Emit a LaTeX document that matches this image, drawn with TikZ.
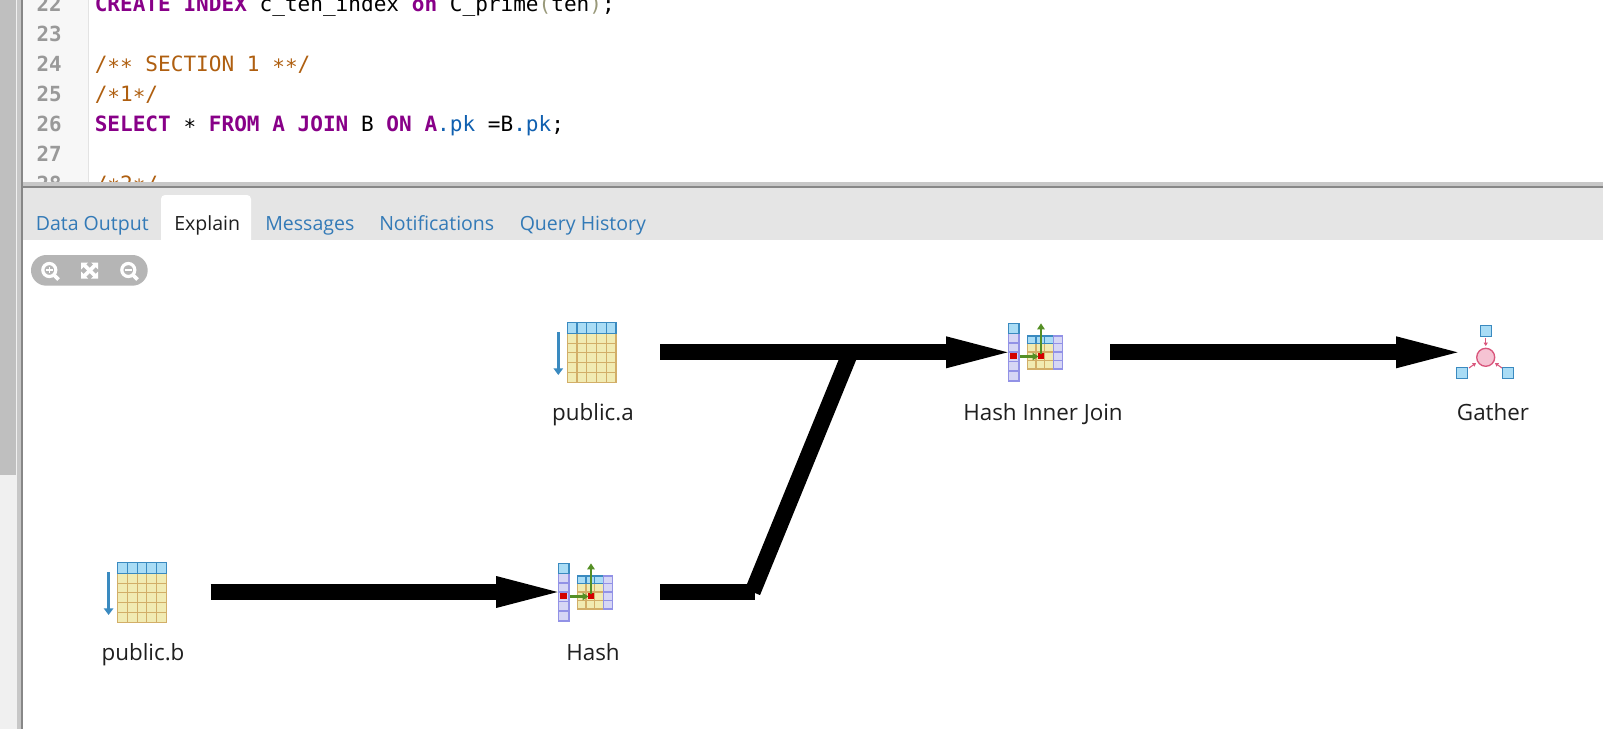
\documentclass[tikz,border=0pt]{standalone}
\usepackage{fontspec}
\setmainfont{Open Sans}
\newfontfamily\codefont{DejaVu Sans Mono}
\usetikzlibrary{arrows.meta}
\definecolor{kw}{HTML}{880088}
\definecolor{cm}{HTML}{AF5F10}
\definecolor{prop}{HTML}{1060B0}
\definecolor{par}{HTML}{99997A}
\definecolor{tabblue}{HTML}{337AB7}
\definecolor{hdrfill}{HTML}{A9DCF5}
\definecolor{hdrline}{HTML}{3A8AC0}
\definecolor{yelfill}{HTML}{F1EBB2}
\definecolor{yelline}{HTML}{D2AE68}
\definecolor{lavfill}{HTML}{D6D6F5}
\definecolor{lavline}{HTML}{9292E6}
\definecolor{grn}{HTML}{558F25}
\definecolor{redsq}{HTML}{D40000}
\definecolor{pnkfill}{HTML}{F5C3D3}
\definecolor{pnkline}{HTML}{D9567C}
\newcommand{\kwd}[1]{\textcolor{kw}{\bfseries #1}}
\newcommand{\stc}{\raisebox{-0.14em}{*}}
\tikzset{
  x=0.75pt,y=-0.75pt,
  codeline/.style={anchor=base west,inner sep=0pt,font=\codefont\fontsize{15.8}{18}\selectfont},
  lineno/.style={anchor=base east,inner sep=0pt,text=black!40,font=\codefont\bfseries\fontsize{15.6}{18}\selectfont},
  tabtext/.style={anchor=base west,inner sep=0pt,text=tabblue,font=\fontsize{14.65}{18}\selectfont},
  nodelabel/.style={anchor=base,inner sep=0pt,text=black!88,font=\fontsize{16.8}{20}\selectfont},
  conn/.style={line width=12.2pt,black,-{Triangle[length=46pt,width=24pt,line width=0pt]}},
  connplain/.style={line width=12.2pt,black},
  hdrcell/.style={fill=hdrfill,draw=hdrline,line width=1pt},
  yelcell/.style={fill=yelfill,draw=yelline,line width=0.8pt},
  lavcell/.style={fill=lavfill,draw=lavline,line width=0.8pt},
  redcell/.style={fill=redsq,draw=none},
  grnarrow/.style={draw=grn,line width=2pt,-{Triangle[length=4.5pt,width=5.5pt]}},
  tinyarrow/.style={draw=pnkline,line width=0.8pt,-{Triangle[length=2.5pt,width=3pt]}},
  zoomicon/.style={draw=white,line width=2.4pt},
}
\newcommand{\scanicon}[2]{%
  \begin{scope}[shift={(#1,#2)}]
    \draw[hdrline,line width=2pt,-{Triangle[length=5pt,width=7pt]}] (558.3,332) -- (558.3,375);
    \fill[yelfill] (567.3,333.3) rectangle (616,382.3);
    \fill[hdrfill] (567.3,322.7) rectangle (616,333.3);
    \foreach \yy in {343.1,352.9,362.7,372.5}
      \draw[yelline,line width=0.8pt] (567.3,\yy) -- (616,\yy);
    \foreach \xx in {577,586.8,596.5,606.3}{
      \draw[yelline,line width=0.8pt] (\xx,333.3) -- (\xx,382.3);
      \draw[hdrline,line width=0.8pt] (\xx,322.7) -- (\xx,333.3);}
    \draw[yelline,line width=1pt] (567.3,333.3) rectangle (616,382.3);
    \draw[hdrline,line width=1pt] (567.3,322.7) rectangle (616,333.3);
  \end{scope}}
\newcommand{\hashicon}[2]{%
  \begin{scope}[shift={(#1,#2)}]
    \foreach \ya/\yb in {333.3/343,343/352,352/361.5,361.5/371,371/381}
      \draw[lavcell] (1008.5,\ya) rectangle (1019,\yb);
    \draw[hdrcell] (1008.5,323.3) rectangle (1019,333.3);
    \fill[redcell] (1010,353.3) rectangle (1017.3,359.3);
    \foreach \ya/\yb in {343.3/352,352/360.5,360.5/369}{
      \draw[yelcell] (1027.3,\ya) rectangle (1036,\yb);
      \draw[yelcell] (1036,\ya) rectangle (1044.7,\yb);
      \draw[yelcell] (1044.7,\ya) rectangle (1053.3,\yb);
      \draw[lavcell] (1053.3,\ya) rectangle (1062.3,\yb);}
    \draw[hdrcell] (1027.3,336) rectangle (1036,343.3);
    \draw[hdrcell] (1036,336) rectangle (1044.7,343.3);
    \draw[hdrcell] (1044.7,336) rectangle (1053.3,343.3);
    \draw[lavcell] (1053.3,336) rectangle (1062.3,343.3);
    \fill[redcell] (1038.3,353.3) rectangle (1044.3,359.3);
    \draw[grnarrow] (1020,356.5) -- (1038.5,356.5);
    \draw[grnarrow] (1041,353.5) -- (1041,323.3);
  \end{scope}}
\begin{document}
\begin{tikzpicture}
\useasboundingbox (0,0) rectangle (1603,729);
\fill[white] (0,0) rectangle (1603,729);
% left chrome
\fill[black!6] (0,0) rectangle (17,729);
\fill[black!25] (0,0) rectangle (15.5,475);
\fill[black!22] (17,0) rectangle (21,729);
\fill[black!47] (21,0) rectangle (23,729);
% editor
\fill[black!3] (23,0) rectangle (87.5,182);
\fill[black!11] (87.5,0) rectangle (89,182);
\begin{scope}
  \clip (23,0) rectangle (1603,182);
  \node[lineno] (n22) at (62,11.7) {22};
  \node[lineno] (n23) at (62,41.7) {23};
  \node[lineno] (n24) at (62,71.7) {24};
  \node[lineno] (n25) at (62,101.7) {25};
  \node[lineno] (n26) at (62,131.7) {26};
  \node[lineno] (n27) at (62,161.7) {27};
  \node[lineno] (n28) at (62,191.7) {28};
  \node[codeline] (l22) at (94.5,11.7) {\kwd{CREATE INDEX} c\_ten\_index \kwd{on} C\_prime\textcolor{par}{(}ten\textcolor{par}{)};};
  \node[codeline,text=cm] (l24) at (94.5,71.7) {/\stc\stc{} SECTION 1 \stc\stc/};
  \node[codeline,text=cm] (l25) at (94.5,101.7) {/\stc1\stc/};
  \node[codeline] (l26) at (94.5,131.7) {\kwd{SELECT} \stc{} \kwd{FROM A JOIN} B \kwd{ON A}\textcolor{prop}{.pk} =B\textcolor{prop}{.pk};};
  \node[codeline,text=cm] (l28) at (94.5,191.7) {/\stc2\stc/};
\end{scope}
% separator and tab bar
\fill[black!22] (23,182) rectangle (1603,186);
\fill[black!47] (23,186) rectangle (1603,187.5);
\fill[black!10] (23,187.5) rectangle (1603,240);
\fill[white,rounded corners=3pt] (161,195) rectangle (251,246);
\fill[white] (161,240) rectangle (251,250);
\node[tabtext] (t1) at (35.5,230) {Data Output};
\node[tabtext,text=black!88] (t2) at (174,230) {Explain};
\node[tabtext] (t3) at (265,230) {Messages};
\node[tabtext] (t4) at (379,230) {Notifications};
\node[tabtext] (t5) at (519.5,230) {Query History};
% zoom control
\fill[black!29,rounded corners=11.5pt] (31,255) rectangle (147.7,285.7);
\draw[zoomicon] (49.3,270) circle[radius=6.5];
\draw[zoomicon,line width=2.8pt] (54,275) -- (58.5,279.5);
\draw[white,line width=1pt] (46,270) -- (52.6,270) (49.3,266.7) -- (49.3,273.3);
\draw[zoomicon] (128.3,270) circle[radius=6.5];
\draw[zoomicon,line width=2.8pt] (133,275) -- (137.5,279.5);
\draw[white,line width=1.2pt] (125,270) -- (131.6,270);
\begin{scope}[shift={(89.7,270.5)}]
  \foreach \sx/\sy in {1/1,1/-1,-1/1,-1/-1}{
    \draw[white,line width=2.8pt] (0,0) -- (6*\sx,6*\sy);
    \fill[white] (8.5*\sx,8*\sy) -- (1.5*\sx,8*\sy) -- (8.5*\sx,1*\sy) -- cycle;}
\end{scope}
% icons
\scanicon{0}{0}
\scanicon{-449.7}{240}
\hashicon{0}{0}
\hashicon{-450}{240}
% gather icon
\draw[hdrcell] (1480.2,325.8) rectangle (1491.2,336.8);
\draw[hdrcell] (1456.8,367.8) rectangle (1467.8,378.8);
\draw[hdrcell] (1502.8,367.8) rectangle (1513.8,378.8);
\draw[fill=pnkfill,draw=pnkline,line width=1pt] (1485.7,357.3) circle[radius=9];
\draw[tinyarrow] (1485.7,338) -- (1485.7,346);
\draw[tinyarrow] (1469,368) -- (1476,363);
\draw[tinyarrow] (1502,368) -- (1495,363);
% labels
\node[nodelabel] (public a) at (593,420) {public.a};
\node[nodelabel] (public b) at (143,660) {public.b};
\node[nodelabel] (hash) at (593,660) {Hash};
\node[nodelabel] (join) at (1043,420) {Hash Inner Join};
\node[nodelabel] (gather) at (1493,420) {Gather};
% connectors (each edge is a run of separate segments, as in the reference)
\coordinate (aOut) at (660,352.3);
\coordinate (aM1) at (755.5,352.3);
\coordinate (aM2) at (850.5,352.3);
\coordinate (joinIn) at (1007.5,352.3);
\coordinate (joinOut) at (1110,352.3);
\coordinate (jM1) at (1204.5,352.3);
\coordinate (jM2) at (1300.5,352.3);
\coordinate (gatherIn) at (1457.5,352.3);
\coordinate (bOut) at (210.5,592);
\coordinate (bM1) at (305.5,592);
\coordinate (bM2) at (400.5,592);
\coordinate (hashIn) at (557.5,592);
\coordinate (hashOut) at (660,592);
\coordinate (bendA) at (755,592);
\coordinate (bendStart) at (752.5,592);
\draw[connplain] (hashOut) -- (bendA);
\draw[connplain] (bendStart) -- (aM2);
\draw[connplain] (aOut) -- (aM1);
\draw[connplain] (aM1) -- (aM2);
\draw[conn] (aM2) -- (joinIn);
\draw[connplain] (joinOut) -- (jM1);
\draw[connplain] (jM1) -- (jM2);
\draw[conn] (jM2) -- (gatherIn);
\draw[connplain] (bOut) -- (bM1);
\draw[connplain] (bM1) -- (bM2);
\draw[conn] (bM2) -- (hashIn);
\end{tikzpicture}
\end{document}
